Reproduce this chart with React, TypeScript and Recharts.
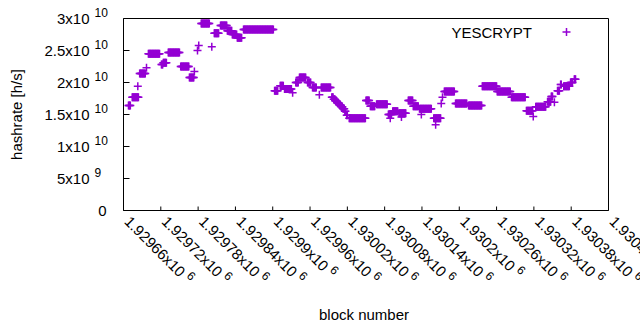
import React from 'react';
import { ScatterChart, Scatter, XAxis, YAxis, Legend, Label } from 'recharts';

// hashrate estimate per block, grouped in runs of equal value
// offsets are counted from FIRST_BLOCK, values in units of 1e10 h/s
const FIRST_BLOCK = 1929660;
const runStart = [
  8, 14, 23, 26, 37, 40, 61, 64, 72, 92, 106, 114, 119, 121, 125, 142, 146, 156, 167, 175,
  183, 193, 243, 252, 259, 272, 277, 283, 296, 304, 315, 318, 335, 338, 341, 344, 347, 350,
  353, 356, 359, 363, 390, 397, 407, 426, 429, 433, 443, 447, 458, 466, 476, 479, 499, 502,
  511, 513, 516, 534, 555, 577, 601, 624, 648, 659, 663, 682, 688, 693, 698, 703, 708, 719, 725,
];
const runEnd = [
  11, 24, 23, 35, 37, 58, 63, 69, 90, 105, 113, 114, 119, 121, 138, 142, 153, 166, 174, 182,
  190, 241, 248, 257, 270, 272, 281, 293, 301, 310, 315, 333, 337, 340, 343, 346, 349, 352,
  355, 357, 360, 389, 395, 404, 424, 431, 429, 441, 454, 447, 465, 474, 495, 479, 510, 502,
  511, 513, 532, 552, 576, 600, 622, 646, 658, 659, 679, 687, 690, 693, 701, 704, 717, 722, 727,
];
const runValue = [
  1.64, 1.77, 1.94, 2.14, 2.23, 2.45, 2.28, 2.31, 2.47, 2.25, 2.08, 2.17, 2.5, 2.58, 2.92, 2.56,
  2.77, 2.89, 2.81, 2.75, 2.7, 2.83, 1.87, 1.95, 1.9, 1.84, 2.0, 2.08, 2.0, 1.92, 1.81, 1.92,
  1.77, 1.74, 1.71, 1.68, 1.65, 1.62, 1.59, 1.55, 1.49, 1.44, 1.72, 1.63, 1.66, 1.5, 1.44, 1.55,
  1.52, 1.46, 1.72, 1.63, 1.59, 1.5, 1.44, 1.34, 1.67, 1.77, 1.86, 1.67, 1.64, 1.94, 1.86, 1.77,
  1.56, 1.47, 1.62, 1.7, 1.78, 1.69, 1.87, 1.97, 1.94, 2.0, 2.05,
];

const xTicks = [
  1929660, 1929720, 1929780, 1929840, 1929900, 1929960, 1930020, 1930080, 1930140, 1930200,
  1930260, 1930320, 1930380, 1930440,
];
const yTicks = [0, 5e9, 1e10, 1.5e10, 2e10, 2.5e10, 3e10];
const seriesName = 'YESCRYPT';

const COLOR = '#9400d3';
const FONT = '"Liberation Sans", Arial, sans-serif';

const data: { block: number; hashrate: number }[] = [];
runStart.forEach((s, i) => {
  for (let b = s; b <= runEnd[i]; b++) {
    data.push({ block: FIRST_BLOCK + b, hashrate: runValue[i] * 1e10 });
  }
});

// gnuplot style mantissa "x10" exponent
const sci = (v: number) => {
  if (v === 0) return { m: '0', e: '' };
  const e = Math.floor(Math.log10(v) + 1e-9);
  const m = parseFloat((v / Math.pow(10, e)).toFixed(5));
  return { m: `${m}x10`, e: String(e) };
};

const Cross = ({ cx, cy }: any) => (
  <path d={`M${cx - 4},${cy}h8M${cx},${cy - 4}v8`} stroke={COLOR} strokeWidth={1.5} fill="none" />
);

const LeftTick = ({ x, y, payload }: any) => {
  const { m, e } = sci(payload.value);
  return (
    <g>
      <line x1={x} x2={x + 6} y1={y} y2={y} stroke="#000" />
      <text x={e ? x - 34 : x - 17} y={y + 5} textAnchor="end" fontSize={15} fill="#000">
        {m}
      </text>
      {e && (
        <text x={x - 29} y={y - 2} fontSize={12} fill="#000">
          {e}
        </text>
      )}
    </g>
  );
};

const RightTick = ({ x, y }: any) => <line x1={x} x2={x - 6} y1={y} y2={y} stroke="#000" />;
const TopTick = ({ x, y }: any) => <line x1={x} x2={x} y1={y} y2={y + 4} stroke="#000" />;

const BottomTick = ({ x, y, payload }: any) => {
  const { m, e } = sci(payload.value);
  return (
    <g>
      <line x1={x} x2={x} y1={y} y2={y - 4} stroke="#000" />
      <text transform={`translate(${x},${y + 12}) rotate(45)`} fontSize={15} fill="#000">
        {m}
        <tspan dx={4} dy={-6} fontSize={12}>
          {e}
        </tspan>
      </text>
    </g>
  );
};

const LegendBox = ({ payload }: any) => (
  <svg width={200} height={45}>
    <text x={132} y={37.5} textAnchor="end" fontSize={15} fill="#000" fontFamily={FONT}>
      {payload && payload[0] ? payload[0].value : seriesName}
    </text>
    <Cross cx={166.5} cy={32} />
  </svg>
);

export default function App() {
  return (
    <div style={{ position: 'absolute', left: 0, top: 0, fontFamily: FONT }}>
      <ScatterChart width={640} height={330} margin={{ top: 0, right: 0, bottom: 0, left: 0 }}>
        <XAxis
          xAxisId="bottom"
          dataKey="block"
          type="number"
          orientation="bottom"
          domain={[xTicks[0], xTicks[xTicks.length - 1]]}
          ticks={xTicks}
          interval={0}
          height={119.5}
          tickSize={0}
          tickMargin={0}
          tickLine={false}
          axisLine={{ stroke: '#000' }}
          tick={<BottomTick />}
        >
          <Label
            content={({ viewBox }: any) => (
              <text x={viewBox.x + viewBox.width / 2 - 2} y={viewBox.y + 109} textAnchor="middle" fontSize={15} fill="#000">
                block number
              </text>
            )}
          />
        </XAxis>
        <XAxis
          xAxisId="top"
          dataKey="block"
          type="number"
          orientation="top"
          domain={[xTicks[0], xTicks[xTicks.length - 1]]}
          ticks={xTicks}
          interval={0}
          height={18.5}
          tickSize={0}
          tickMargin={0}
          tickLine={false}
          axisLine={{ stroke: '#000' }}
          tick={<TopTick />}
        />
        <YAxis
          yAxisId="left"
          dataKey="hashrate"
          type="number"
          orientation="left"
          domain={[0, 3e10]}
          ticks={yTicks}
          interval={0}
          width={123.5}
          tickSize={0}
          tickMargin={0}
          tickLine={false}
          axisLine={{ stroke: '#000' }}
          tick={<LeftTick />}
        >
          <Label
            content={({ viewBox }: any) => (
              <text
                transform={`translate(${viewBox.x + 22},${viewBox.y + viewBox.height / 2}) rotate(-90)`}
                textAnchor="middle"
                fontSize={15}
                fill="#000"
              >
                hashrate [h/s]
              </text>
            )}
          />
        </YAxis>
        <YAxis
          yAxisId="right"
          dataKey="hashrate"
          type="number"
          orientation="right"
          domain={[0, 3e10]}
          ticks={yTicks}
          interval={0}
          width={31.5}
          tickSize={0}
          tickMargin={0}
          tickLine={false}
          axisLine={{ stroke: '#000' }}
          tick={<RightTick />}
        />
        <Legend
          layout="vertical"
          align="center"
          verticalAlign="middle"
          wrapperStyle={{ left: 400, top: 0, width: 200, height: 45 }}
          content={<LegendBox />}
        />
        <Scatter
          name={seriesName}
          data={data}
          xAxisId="bottom"
          yAxisId="left"
          fill={COLOR}
          shape={<Cross />}
          isAnimationActive={false}
        />
      </ScatterChart>
    </div>
  );
}
